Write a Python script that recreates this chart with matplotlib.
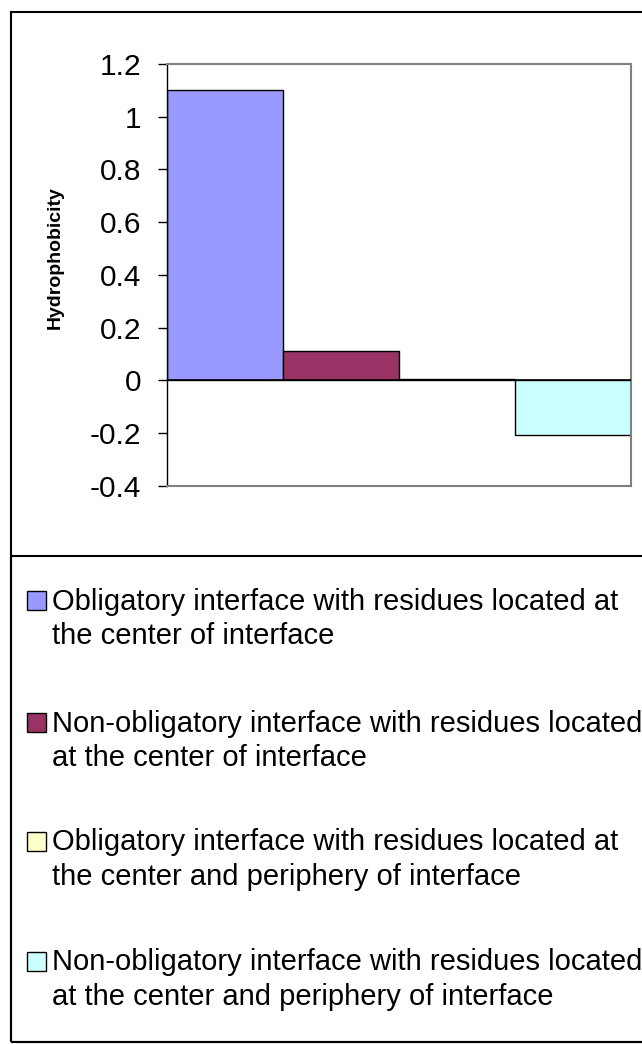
import numpy as np
import matplotlib
matplotlib.use("Agg")
import matplotlib.pyplot as plt
from matplotlib.patches import Rectangle

plt.rcParams['font.family'] = ['Liberation Sans', 'DejaVu Sans']

# Data
series_labels = [
    ["Obligatory interface with residues located at",
     "the center of interface"],
    ["Non-obligatory interface with residues located",
     "at the center of interface"],
    ["Obligatory interface with residues located at",
     "the center and periphery of interface"],
    ["Non-obligatory interface with residues located",
     "at the center and periphery of interface"],
]
values = [1.10, 0.112, 0.005, -0.207]
colors = ["#9999FF", "#993366", "#FFFFCC", "#CCFFFF"]
yticks = [-0.4, -0.2, 0, 0.2, 0.4, 0.6, 0.8, 1, 1.2]

W, H = 642, 1044
fig = plt.figure(figsize=(W / 100, H / 100), dpi=100)


def fx(px):
    return px / W


def fy(py):
    return 1 - py / H


# outer chart border and legend box
fig.patches.append(Rectangle((fx(11), fy(1042)), fx(700), fy(12) - fy(1042),
                             transform=fig.transFigure, fill=False,
                             edgecolor="black", lw=1.5))
fig.patches.append(Rectangle((fx(11), fy(1042)), fx(700), fy(556) - fy(1042),
                             transform=fig.transFigure, fill=False,
                             edgecolor="black", lw=1.5))

# plot area
ax = fig.add_axes([fx(167), fy(486), fx(631) - fx(167), fy(64) - fy(486)])
x = np.arange(len(values))
ax.bar(x, values, width=1.0, color=colors, edgecolor="black", linewidth=1.0,
       zorder=2)
ax.axhline(0, color="black", lw=1.2, zorder=3)
ax.set_xlim(-0.5, len(values) - 0.5)
ax.set_ylim(-0.4, 1.2)
ax.set_yticks(yticks)
ax.set_yticklabels(["-0.4", "-0.2", "0", "0.2", "0.4", "0.6", "0.8", "1", "1.2"])
ax.set_xticks([])
ax.tick_params(axis="y", direction="out", length=6.5, width=1.0,
               labelsize=21.5, pad=12, colors="black")
for s in ["top", "right", "bottom"]:
    ax.spines[s].set_color("#808080")
    ax.spines[s].set_linewidth(1.5)
ax.spines["left"].set_color("black")
ax.spines["left"].set_linewidth(1.0)

fig.text(fx(55), fy(258), "Hydrophobicity", rotation=90, fontsize=14,
         fontweight="bold", ha="center", va="center")

# legend entries
centers = [600, 722, 841, 961]
for lab, col, cy in zip(series_labels, colors, centers):
    fig.patches.append(Rectangle((fx(27), fy(cy + 9.5)), fx(19), fy(cy - 9.5) - fy(cy + 9.5),
                                 transform=fig.transFigure, facecolor=col,
                                 edgecolor="black", lw=1.0))
    fig.text(fx(52), fy(cy + 9.5), lab[0], fontsize=21, va="baseline", ha="left")
    fig.text(fx(52), fy(cy + 44), lab[1], fontsize=21, va="baseline", ha="left")

fig.savefig("out.png", dpi=100)
